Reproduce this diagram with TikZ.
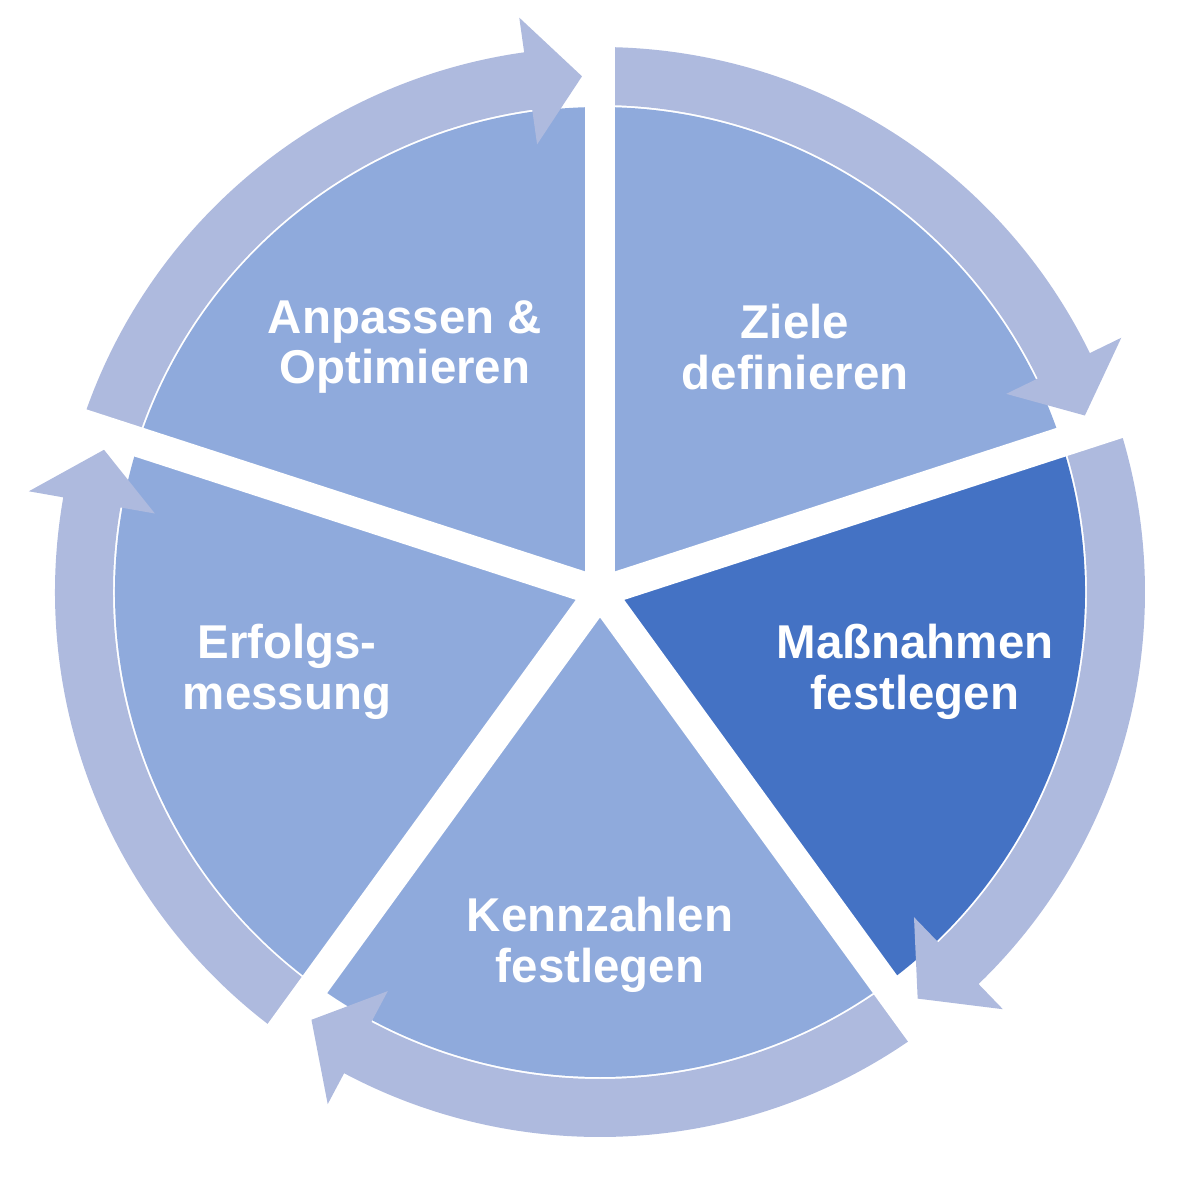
\documentclass[tikz,border=0pt]{standalone}
\usepackage{fontspec}
\setmainfont{Liberation Sans}
\usetikzlibrary{calc}
\definecolor{slicec}{RGB}{143,170,220}
\definecolor{darkc}{RGB}{68,114,196}
\definecolor{ringc}{RGB}{174,186,222}
\tikzset{lbl/.style={text=white,font=\fontsize{13.5}{14.5}\selectfont\bfseries,align=center}}
\begin{document}
\begin{tikzpicture}
\useasboundingbox (0,0) rectangle (12,11.85);
\coordinate (C) at (6.0,5.93);
% slices
\foreach \A/\col in {162/slicec,90/slicec,18/darkc,-54/slicec,-126/slicec}{
  \pgfmathsetmacro\B{\A-72}
  \fill[\col] (C) -- ($(C)+(\A:4.85)$) arc[start angle=\A,end angle=\B,radius=4.85] -- cycle;
}
% ring arrows
\foreach \A in {162,90,18,-54,-126}{
  \pgfmathsetmacro\B{\A-72}
  \pgfmathsetmacro\S{\A-1.5}
  \pgfmathsetmacro\H{\B+8}
  \pgfmathsetmacro\T{\B+2}
  \fill[ringc] ($(C)+(\S:4.87)$) arc[start angle=\S,end angle=\H,radius=4.87]
    -- ($(C)+(\H:4.52)$) -- ($(C)+(\T:5.16)$) -- ($(C)+(\H:5.80)$)
    -- ($(C)+(\H:5.45)$) arc[start angle=\H,end angle=\S,radius=5.45] -- cycle;
}
% dividers
\foreach \A in {162,90,18,-54,-126}{
  \draw[white,line width=0.3cm] (C) -- ($(C)+(\A:5.9)$);
}
\node[lbl] (n1) at (4.05,8.38) {Anpassen \&\\Optimieren};
\node[lbl] (n2) at (7.95,8.38) {Ziele\\definieren};
\node[lbl] (n3) at (9.15,5.13) {Maßnahmen\\festlegen};
\node[lbl] (n4) at (6.0,2.40) {Kennzahlen\\festlegen};
\node[lbl] (n5) at (2.87,5.13) {Erfolgs-\\messung};
\end{tikzpicture}
\end{document}
